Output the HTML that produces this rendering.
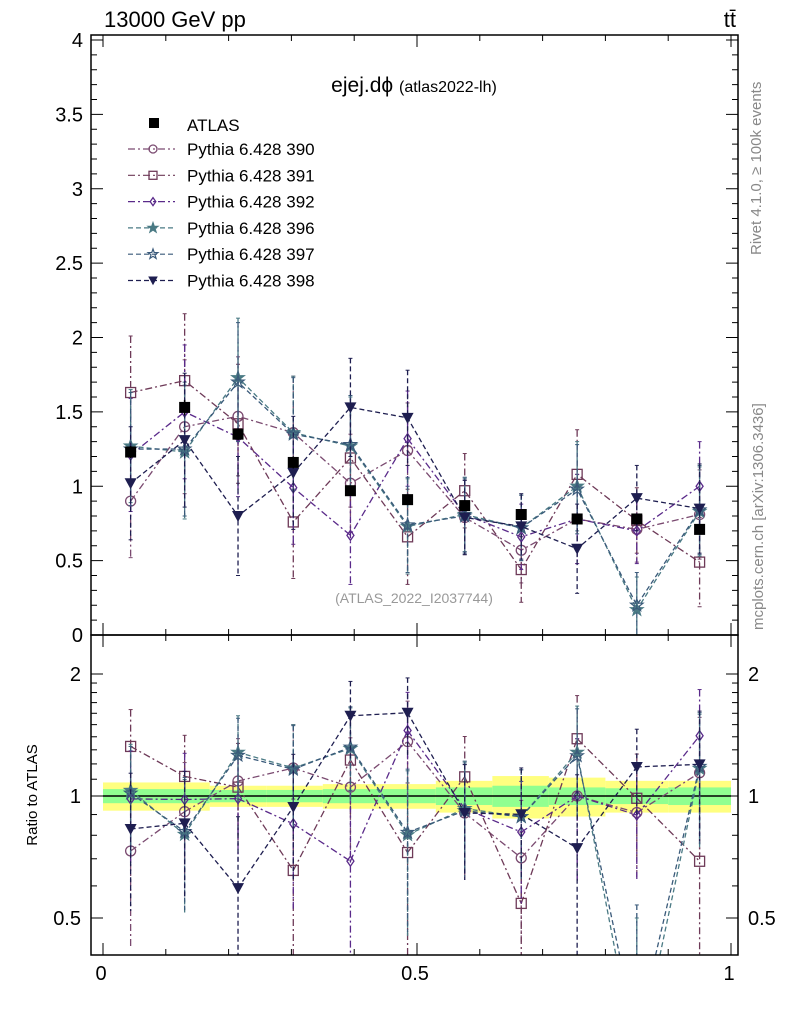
<!DOCTYPE html>
<html><head><meta charset="utf-8"><style>
html,body{margin:0;padding:0;background:#fff;overflow:hidden;width:786px;height:1024px}
svg{display:block}
svg text{font-family:"Liberation Sans",sans-serif}
</style></head><body>
<svg id="c" width="786" height="1024" viewBox="0 0 786 1024" xmlns="http://www.w3.org/2000/svg">
<text x="104" y="27" font-size="22">13000 GeV pp</text>
<text x="736" y="27" font-size="22" text-anchor="end">tt̄</text>
<text x="414" y="92" font-size="21" text-anchor="middle">ejej.dϕ <tspan font-size="16">(atlas2022-lh)</tspan></text>
<text x="414" y="603" font-size="14" fill="#999" text-anchor="middle">(ATLAS_2022_I2037744)</text>
<text transform="translate(761,255) rotate(-90)" font-size="15" fill="#888">Rivet 4.1.0, ≥ 100k events</text>
<text transform="translate(763,630) rotate(-90)" font-size="15" fill="#888">mcplots.cern.ch [arXiv:1306.3436]</text>
<text transform="translate(37,795) rotate(-90)" font-size="15" text-anchor="middle">Ratio to ATLAS</text>
<g id="bands"></g><g id="marks"></g><g id="axes"></g><g id="legend"></g>
</svg>
<script>
const xs=[0.044,0.130,0.215,0.303,0.394,0.485,0.576,0.666,0.755,0.850,0.950];
const edges=[0,0.09,0.17,0.26,0.35,0.44,0.53,0.62,0.71,0.80,0.90,1.0];
const atlas=[1.23,1.53,1.35,1.16,0.97,0.91,0.87,0.81,0.78,0.78,0.71];
const atlasErr=[0.04,0.05,0.04,0.04,0.03,0.03,0.03,0.03,0.03,0.03,0.03];
const bandGreen=[0.04,0.04,0.035,0.035,0.04,0.04,0.05,0.06,0.05,0.045,0.05];
const bandYellow=[0.08,0.08,0.06,0.06,0.07,0.07,0.09,0.12,0.11,0.09,0.09];
const s390=[0.90,1.40,1.47,1.36,1.02,1.24,0.79,0.57,0.78,0.71,0.81];
const s391=[1.63,1.71,1.42,0.76,1.19,0.66,0.97,0.44,1.08,0.77,0.49];
const s392=[1.21,1.50,1.33,0.99,0.67,1.32,0.81,0.66,0.78,0.70,1.00];
const s396=[1.27,1.23,1.73,1.36,1.27,0.73,0.81,0.72,1.00,0.17,0.83];
const s397=[1.25,1.25,1.70,1.35,1.28,0.74,0.80,0.72,0.98,0.20,0.84];
const s398=[1.02,1.31,0.80,1.09,1.53,1.46,0.79,0.73,0.58,0.92,0.85];
const mcErr=[0.38,0.45,0.40,0.38,0.33,0.32,0.25,0.22,0.30,0.22,0.30];
const series=[
 {n:'390',d:s390,c:'#7a4a70',m:'circle',dash:'7,3,2,3'},
 {n:'391',d:s391,c:'#6e3a58',m:'square',dash:'7,3,2,3'},
 {n:'392',d:s392,c:'#5a2a8a',m:'diamond',dash:'7,3,2,3'},
 {n:'396',d:s396,c:'#4a7a84',m:'star',dash:'5,3'},
 {n:'397',d:s397,c:'#3a5a7a',m:'ostar',dash:'5,3'},
 {n:'398',d:s398,c:'#1e1e50',m:'tri',dash:'5,3'}];
const NS='http://www.w3.org/2000/svg';
const T1=35,B1=635,T2=635,B2=955,L=91,RR=738;
const X=v=>103+v*628;
const Y=v=>635-v*148.75;
const K=176;const R=v=>796-Math.log(v)*K;
const cT=y=>Math.min(B1,Math.max(T1,y));
const cB=y=>Math.min(B2,Math.max(T2,y));
function el(t,a,p){const e=document.createElementNS(NS,t);for(const k in a)e.setAttribute(k,a[k]);(p||document.getElementById('marks')).appendChild(e);return e;}
function marker(m,x,y,c,p,s){s=s||1;let e;
 if(m==='circle')e=el('circle',{cx:x,cy:y,r:5*s,fill:'none',stroke:c,'stroke-width':1.3},p);
 else if(m==='square')e=el('rect',{x:x-5*s,y:y-5*s,width:10*s,height:10*s,fill:'none',stroke:c,'stroke-width':1.3},p);
 else if(m==='diamond')e=el('path',{d:`M${x},${y-5*s}L${x+3.5*s},${y}L${x},${y+5*s}L${x-3.5*s},${y}Z`,fill:'none',stroke:c,'stroke-width':1.3},p);
 else if(m==='tri')e=el('path',{d:`M${x-6*s},${y-5*s}L${x+6*s},${y-5*s}L${x},${y+6*s}Z`,fill:c},p);
 else{let d='';for(let i=0;i<10;i++){const r=(i%2?2.6:6.5)*s,a=Math.PI*i/5-Math.PI/2;d+=(i?'L':'M')+(x+r*Math.cos(a)).toFixed(1)+','+(y+r*Math.sin(a)).toFixed(1);}
  e=el('path',{d:d+'Z',fill:m==='star'?c:'none',stroke:c,'stroke-width':1.2},p);}
 return e;}
function clipSeg(pts,lo,hi){ // clip a polyline to y range, returns list of segments
 const out=[];for(let i=0;i<pts.length-1;i++){let [x1,y1]=pts[i],[x2,y2]=pts[i+1];
  if((y1<lo&&y2<lo)||(y1>hi&&y2>hi))continue;
  const f=(yy)=>x1+(x2-x1)*(yy-y1)/(y2-y1);
  if(y1>hi){x1=f(hi);y1=hi;}else if(y1<lo){x1=f(lo);y1=lo;}
  if(y2>hi){x2=f(hi);y2=hi;}else if(y2<lo){x2=f(lo);y2=lo;}
  out.push([x1,y1,x2,y2]);}
 return out;}
const svgRoot=document.getElementById('c');
const bg=document.getElementById('bands');
for(let i=0;i<xs.length;i++){
 const b=el('rect',{x:X(edges[i]),y:R(1+bandYellow[i]),width:X(edges[i+1])-X(edges[i]),height:R(1-bandYellow[i])-R(1+bandYellow[i]),fill:'#ffff80'},bg);
 
 
 const g=el('rect',{x:X(edges[i]),y:R(1+bandGreen[i]),width:X(edges[i+1])-X(edges[i]),height:R(1-bandGreen[i])-R(1+bandGreen[i]),fill:'#90ff90'},bg);
 
 
}
el('line',{x1:X(0),x2:X(1),y1:R(1),y2:R(1),stroke:'#000','stroke-width':1.5},bg);
const mg=document.getElementById('marks');
const gTop=el('g',{},mg),gBot=el('g',{},mg);
series.forEach(s=>{
 const gt=el('g',{},gTop),gb=el('g',{},gBot);
 
 
 
 
 el('polyline',{points:s.d.map((v,i)=>X(xs[i])+','+cT(Y(v))).join(' '),fill:'none',stroke:s.c,'stroke-width':1.3,'stroke-dasharray':s.dash},gt);
 const rp=s.d.map((v,i)=>[X(xs[i]),R(v/atlas[i])]);
 clipSeg(rp,T2,B2).forEach(([a,b,c,d])=>el('line',{x1:a,y1:b,x2:c,y2:d,stroke:s.c,'stroke-width':1.3,'stroke-dasharray':s.dash},gb));
 s.d.forEach((v,i)=>{const x=X(xs[i]),e=mcErr[i];
  el('line',{x1:x,x2:x,y1:cT(Y(v+e)),y2:cT(Y(Math.max(v-e,0))),stroke:s.c,'stroke-width':1.3,'stroke-dasharray':s.dash},gt);
  el('line',{x1:x-2,x2:x+2,y1:cT(Y(v+e)),y2:cT(Y(v+e)),stroke:s.c},gt);el('line',{x1:x-2,x2:x+2,y1:cT(Y(Math.max(v-e,0))),y2:cT(Y(Math.max(v-e,0))),stroke:s.c},gt);
  const r=v/atlas[i],er=e/atlas[i];
  const ya=cB(R(r+er)),yb=cB(R(Math.max(r-er,0.05)));
  if(yb>ya)el('line',{x1:x,x2:x,y1:ya,y2:yb,stroke:s.c,'stroke-width':1.3,'stroke-dasharray':s.dash},gb);
  el('line',{x1:x-2,x2:x+2,y1:ya,y2:ya,stroke:s.c},gb);
  const p=marker(s.m,x,Y(v),s.c,gt);
  const ry=R(r);
  if(ry>T2&&ry<B2){const q=marker(s.m,x,ry,s.c,gb);}
 });
});
atlas.forEach((v,i)=>{const x=X(xs[i]);
 el('line',{x1:x,x2:x,y1:Y(v+atlasErr[i]),y2:Y(v-atlasErr[i]),stroke:'#000','stroke-width':1.5},gTop);
 const p=el('rect',{x:x-5.5,y:Y(v)-5.5,width:11,height:11,fill:'#000'},gTop);
 
 
});
const ag=document.getElementById('axes');
el('rect',{x:L,y:T1,width:RR-L,height:B1-T1,fill:'none',stroke:'#000','stroke-width':1.5},ag);
el('rect',{x:L,y:T2,width:RR-L,height:B2-T2,fill:'none',stroke:'#000','stroke-width':1.5},ag);
for(let k=0;k<=40;k++){const v=k/10,y=Y(v);if(y<T1)break;const mj=k%5===0,len=mj?12:6;
 el('line',{x1:L,x2:L+len,y1:y,y2:y,stroke:'#000'},ag);el('line',{x1:RR,x2:RR-len,y1:y,y2:y,stroke:'#000'},ag);
 if(mj){const t=el('text',{x:L-8,y:y+7,'font-size':20,'text-anchor':'end'},ag);t.textContent=(v===0?'0':String(v));}}
const rt=[0.5,0.6,0.7,0.8,0.9,1,1.1,1.2,1.3,1.4,1.5,1.6,1.7,1.8,1.9,2];
rt.forEach(v=>{const y=R(v),mj=(v===0.5||v===1||v===2),len=mj?12:6;
 el('line',{x1:L,x2:L+len,y1:y,y2:y,stroke:'#000'},ag);el('line',{x1:RR,x2:RR-len,y1:y,y2:y,stroke:'#000'},ag);
 if(mj){const t=el('text',{x:L-10,y:y+7,'font-size':20,'text-anchor':'end'},ag);t.textContent=String(v);
  const t2=el('text',{x:RR+10,y:y+7,'font-size':20},ag);t2.textContent=String(v);}});
for(let k=0;k<=10;k++){const x=X(k/10),mj=k%5===0,len=mj?12:6;
 [[T1,1],[B1,-1],[T2,1],[B2,-1]].forEach(([y,d])=>el('line',{x1:x,x2:x,y1:y,y2:y+d*len,stroke:'#000'},ag));
 if(mj){const t=el('text',{x:x-2,y:980,'font-size':20,'text-anchor':'middle'},ag);t.textContent=['0','0.5','1'][k/5];}}
const lg=document.getElementById('legend');

el('rect',{x:149,y:118,width:10,height:10,fill:'#000'},lg);
let t=el('text',{x:187,y:131,'font-size':17},lg);t.textContent='ATLAS';
series.forEach((s,i)=>{const y=149+i*26.3;
 const g=el('g',{},lg);
 el('line',{x1:128,x2:175,y1:y,y2:y,stroke:s.c,'stroke-width':1.2,'stroke-dasharray':s.dash},g);
 marker(s.m,153,y,s.c,g,0.8);
 const tt=el('text',{x:187,y:y+6,'font-size':17},g);tt.textContent='Pythia 6.428 '+s.n;});
</script>
</body></html>
